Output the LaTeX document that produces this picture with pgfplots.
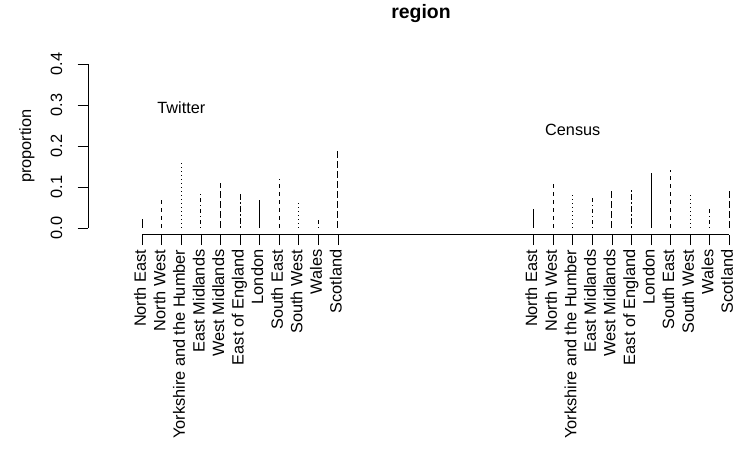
\documentclass[border=0pt]{standalone}
\usepackage{pgfplots}
\pgfplotsset{compat=1.18}
\usepackage{fontspec}
\setmainfont{Liberation Sans}
\begin{document}
\begin{tikzpicture}[x=1bp,y=1bp]
\begin{axis}[
  at={(88bp,226.5bp)}, anchor=south west,
  scale only axis,
  width=664.8bp, height=176.8bp,
  xmin=-1.77, xmax=32.2, ymin=-0.016, ymax=0.416,
  axis line style={draw=none},
  clip=false,
  tick align=outside,
  major tick length=10.5bp,
  xtick pos=lower, ytick pos=left,
  tick style={black, line width=0.8bp},
  xtick={1,2,3,4,5,6,7,8,9,10,11,21,22,23,24,25,26,27,28,29,30,31},
  xticklabels={North East,North West,Yorkshire and the Humber,East Midlands,West Midlands,East of England,London,South East,South West,Wales,Scotland,North East,North West,Yorkshire and the Humber,East Midlands,West Midlands,East of England,London,South East,South West,Wales,Scotland},
  ytick={0,0.1,0.2,0.3,0.4},
  yticklabels={0.0,0.1,0.2,0.3,0.4},
  xticklabel style={rotate=90, anchor=east, text height=0.72em, text depth=0pt, inner sep=0pt, font=\fontsize{16.4}{19}\selectfont},
  yticklabel style={rotate=90, anchor=base, inner sep=0pt, font=\fontsize{16.4}{19}\selectfont},
  xticklabel shift=4.5bp,
  yticklabel shift=15.5bp,
]
\addplot[ycomb, black, line width=0.9bp, solid] coordinates {(1,0.021)(7,0.068)(21,0.046)(27,0.135)};
\addplot[ycomb, black, line width=0.9bp, dash pattern=on 4bp off 4bp] coordinates {(2,0.075)(8,0.119)(22,0.117)(28,0.141)};
\addplot[ycomb, black, line width=0.9bp, dash pattern=on 1bp off 3bp] coordinates {(3,0.160)(9,0.060)(23,0.082)(29,0.082)};
\addplot[ycomb, black, line width=0.9bp, dash pattern=on 1bp off 3bp on 4bp off 3bp] coordinates {(4,0.082)(10,0.022)(24,0.077)(30,0.052)};
\addplot[ycomb, black, line width=0.9bp, dash pattern=on 7bp off 3bp] coordinates {(5,0.111)(11,0.193)(25,0.093)(31,0.090)};
\addplot[ycomb, black, line width=0.9bp, dash pattern=on 2bp off 2bp on 6bp off 2bp] coordinates {(6,0.085)(26,0.092)};
\draw[line width=0.8bp] (axis cs:1,-0.016) -- (axis cs:31,-0.016);
\draw[line width=0.8bp] (axis cs:-1.77,0) -- (axis cs:-1.77,0.4);
\node[font=\fontsize{16.3}{19}\selectfont] at (axis cs:3,0.2932) {Twitter};
\node[font=\fontsize{16.3}{19}\selectfont] at (axis cs:23,0.2407) {Census};
\end{axis}
\node[rotate=90, anchor=base, inner sep=0pt, font=\fontsize{16.4}{19}\selectfont] at (31bp,315bp) {proportion};
\node[anchor=base, inner sep=0pt, font=\bfseries\fontsize{19.5}{23}\selectfont] at (421bp,442bp) {region};
\pgfresetboundingbox
\path[use as bounding box] (0bp,0bp) rectangle (737bp,461bp);
\end{tikzpicture}
\end{document}
